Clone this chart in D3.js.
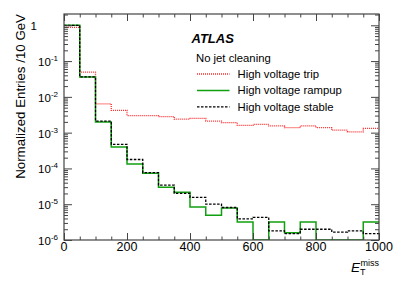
<!DOCTYPE html>
<html>
<head>
<meta charset="utf-8">
<script src="https://cdnjs.cloudflare.com/ajax/libs/d3/7.8.5/d3.min.js"></script>
<style>
  body { margin: 0; background: #fff; }
  svg { font-family: "Liberation Sans", Arial, Helvetica, sans-serif; }
</style>
</head>
<body>
<div id="chart"></div>
<script>
// Bin edges (GeV), 50 GeV bins from 0 to 1000
var binEdges = [0, 50, 100, 150, 200, 250, 300, 350, 400, 450, 500,
                550, 600, 650, 700, 750, 800, 850, 900, 950, 1000];

// Normalized entries per bin
var hvTrip = [0.88, 0.049, 0.0064, 0.0042, 0.0030, 0.0030, 0.0028, 0.0024, 0.0025, 0.0021,
              0.0019, 0.0016, 0.0017, 0.00154, 0.00138, 0.00155, 0.00138, 0.00117, 0.00105, 0.00132];
var hvRampup = [1.0, 0.036, 0.0020, 4.0e-4, 1.32e-4, 7.3e-5, 3.0e-5, 2.15e-5, 8.3e-6, 4.9e-6,
                7.8e-6, 3.2e-6, 0, 3.2e-6, 1.6e-6, 3.2e-6, 0, 0, 0, 3.2e-6];
var hvStable = [1.0, 0.036, 0.0021, 4.7e-4, 1.78e-4, 7.6e-5, 3.4e-5, 2.0e-5, 1.55e-5, 1.0e-5,
                8.1e-6, 3.9e-6, 4.3e-6, 1.8e-6, 1.5e-6, 2.0e-6, 2.0e-6, 1.65e-6, 1.8e-6, 1.5e-6];

// Tick labels
var xTickValues = [0, 200, 400, 600, 800, 1000];
var yTickValues = [1e-6, 1e-5, 1e-4, 1e-3, 1e-2, 1e-1, 1];
var yTickExp = ['-6', '-5', '-4', '-3', '-2', '-1', ''];

var legendNames = ['High voltage trip', 'High voltage rampup', 'High voltage stable'];

var svgWidth = 399;
var svgHeight = 286;

var chartMargin = { top: 14, right: 20, bottom: 46, left: 64 };
var width = svgWidth - chartMargin.left - chartMargin.right;
var height = svgHeight - chartMargin.top - chartMargin.bottom;

var svg = d3.select('#chart')
    .append('svg')
        .attr('width', svgWidth)
        .attr('height', svgHeight);

var chart = svg.append('g')
    .attr('transform', 'translate(' + chartMargin.left + ',' + chartMargin.top + ')');

// Scales
var xScale = d3.scaleLinear().domain([0, 1000]).range([0, width]);
var yMin = 1e-6;
var yScale = d3.scaleLog().domain([yMin, 2.07]).range([height, 0]);

// Histograms drawn as steps
var series = [
    { values: hvTrip, color: '#ff2a2a', dash: '1,1', width: 1.3 },
    { values: hvRampup, color: '#10a010', dash: null, width: 1.5 },
    { values: hvStable, color: '#000000', dash: '2.5,1.5', width: 1.3 }
];

var stepLine = d3.line()
    .x(function(d) { return xScale(d[0]); })
    .y(function(d) { return yScale(Math.max(d[1], yMin)); })
    .curve(d3.curveStepAfter);

var plotArea = chart.append('g');
plotArea.append('clipPath').attr('id', 'clip')
    .append('rect').attr('width', width).attr('height', height);

series.forEach(function(s) {
    var pts = binEdges.map(function(e, i) {
        return [e, s.values[Math.min(i, s.values.length - 1)]];
    });
    plotArea.append('path')
        .attr('d', stepLine(pts))
        .attr('clip-path', 'url(#clip)')
        .attr('fill', 'none')
        .attr('stroke', s.color)
        .attr('stroke-width', s.width)
        .attr('stroke-dasharray', s.dash);
});

// Axes, ROOT style: ticks inside the frame on all four sides
var xMinor = d3.range(0, 1001, 50).filter(function(v) { return v % 200 !== 0; });
var yAll = yScale.ticks();
var yMinor = yAll.filter(function(v) {
    var m = v / Math.pow(10, Math.floor(Math.log10(v) + 1e-9));
    return Math.abs(m - 1) > 1e-6;
});

var axisColor = '#444';

function styleAxis(g) {
    g.select('.domain').remove();
    g.selectAll('line').attr('stroke', axisColor).attr('stroke-width', 1);
    g.selectAll('text').remove();
}

// bottom and top
chart.append('g').attr('transform', 'translate(0,' + height + ')')
    .call(d3.axisBottom(xScale).tickValues(xTickValues).tickSize(-7)).call(styleAxis);
chart.append('g').attr('transform', 'translate(0,' + height + ')')
    .call(d3.axisBottom(xScale).tickValues(xMinor).tickSize(-3.5)).call(styleAxis);
chart.append('g')
    .call(d3.axisTop(xScale).tickValues(xTickValues).tickSize(-7)).call(styleAxis);
chart.append('g')
    .call(d3.axisTop(xScale).tickValues(xMinor).tickSize(-3.5)).call(styleAxis);

// left and right
chart.append('g')
    .call(d3.axisLeft(yScale).tickValues(yTickValues).tickSize(-8)).call(styleAxis);
chart.append('g')
    .call(d3.axisLeft(yScale).tickValues(yMinor).tickSize(-4)).call(styleAxis);
chart.append('g').attr('transform', 'translate(' + width + ',0)')
    .call(d3.axisRight(yScale).tickValues(yTickValues).tickSize(-8)).call(styleAxis);
chart.append('g').attr('transform', 'translate(' + width + ',0)')
    .call(d3.axisRight(yScale).tickValues(yMinor).tickSize(-4)).call(styleAxis);

// Frame
chart.append('rect')
    .attr('width', width)
    .attr('height', height)
    .attr('fill', 'none')
    .attr('stroke', axisColor)
    .attr('stroke-width', 1.2);

// X tick labels
chart.selectAll('.xlab')
    .data(xTickValues)
    .enter()
    .append('text')
        .attr('class', 'xlab')
        .attr('x', function(d) { return xScale(d); })
        .attr('y', height + 10.5)
        .attr('text-anchor', 'middle')
        .attr('font-size', '12.5px')
        .attr('fill', '#000')
        .text(function(d) { return d; });

// Y tick labels: 10^n
yTickValues.forEach(function(v, i) {
    var t = chart.append('text')
        .attr('y', yScale(v) + 5)
        .attr('text-anchor', 'end')
        .attr('fill', '#000')
        .attr('font-size', '11.5px');
    if (yTickExp[i] === '') {
        t.attr('x', -27).text('1');
    } else {
        t.attr('x', -6);
        t.append('tspan').text('10');
        t.append('tspan')
            .attr('dy', -5)
            .attr('font-size', '8px')
            .text(yTickExp[i]);
    }
});

// Axis titles
svg.append('text')
    .attr('transform', 'translate(24.5,' + chartMargin.top + ') rotate(-90)')
    .attr('text-anchor', 'end')
    .attr('font-size', '13.3px')
    .text('Normalized Entries /10 GeV');

var xTitle = svg.append('text')
    .attr('x', chartMargin.left + width)
    .attr('y', 271.5)
    .attr('text-anchor', 'end')
    .attr('font-size', '13.5px');
xTitle.append('tspan').attr('font-style', 'italic').text('E');
xTitle.append('tspan').attr('font-size', '9px').attr('dy', 3).text('T');
xTitle.append('tspan').attr('font-size', '9px').attr('dx', -5).attr('dy', -9).text('miss');

// ATLAS label and legend
svg.append('text')
    .attr('x', 191.5)
    .attr('y', 42.5)
    .attr('font-size', '13px')
    .attr('font-weight', 'bold')
    .attr('font-style', 'italic')
    .text('ATLAS');

svg.append('text')
    .attr('x', 196)
    .attr('y', 61.5)
    .attr('font-size', '11.3px')
    .text('No jet cleaning');

var legend = svg.append('g');
legendNames.forEach(function(name, i) {
    var cy = 74 + i * 16.4;
    legend.append('line')
        .attr('x1', 197).attr('x2', 229.5)
        .attr('y1', cy).attr('y2', cy)
        .attr('stroke', series[i].color)
        .attr('stroke-width', series[i].width)
        .attr('stroke-dasharray', series[i].dash);
    legend.append('text')
        .attr('x', 237.5)
        .attr('y', cy + 4)
        .attr('font-size', '11.3px')
        .text(name);
});
</script>
</body>
</html>
